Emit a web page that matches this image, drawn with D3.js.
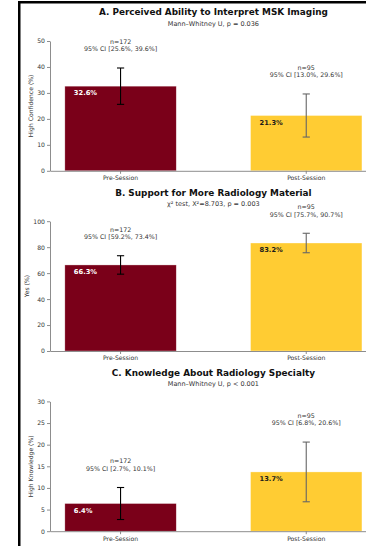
<!DOCTYPE html>
<html>
<head>
<meta charset="utf-8">
<script src="https://cdn.jsdelivr.net/npm/d3@7"></script>
<style>
  html, body { margin: 0; padding: 0; background: #fff; }
  svg { display: block; font-family: "DejaVu Sans", sans-serif; }
</style>
</head>
<body>
<svg id="chart" width="366" height="546"></svg>
<script>
// Survey outcomes before and after the session, three panels.
const categories = ["Pre-Session", "Post-Session"];
const sampleSizes = [172, 95];

const panelTitles = [
  "A. Perceived Ability to Interpret MSK Imaging",
  "B. Support for More Radiology Material",
  "C. Knowledge About Radiology Specialty"
];
const panelTests = [
  "Mann\u2013Whitney U, p = 0.036",
  "\u03c7\u00b2 test, \u03a7\u00b2=8.703, p = 0.003",
  "Mann\u2013Whitney U, p < 0.001"
];
const yAxisLabels = ["High Confidence (%)", "Yes (%)", "High Knowledge (%)"];
const yMaxima = [50, 100, 30];
const yTickValues = [
  [0, 10, 20, 30, 40, 50],
  [0, 20, 40, 60, 80, 100],
  [0, 5, 10, 15, 20, 25, 30]
];

// Percentages per panel: [Pre, Post]
const confidenceValues = [32.6, 21.3];
const supportValues = [66.3, 83.2];
const knowledgeValues = [6.4, 13.7];
const panelValues = [confidenceValues, supportValues, knowledgeValues];

// 95% confidence intervals per panel: [Pre, Post]
const ciLower = [[25.6, 13.0], [59.2, 75.7], [2.7, 6.8]];
const ciUpper = [[39.6, 29.6], [73.4, 90.7], [10.1, 20.6]];

const barColors = ["#7A0019", "#FFCC33"];
const valueTextColors = ["#ffffff", "#1a1a1a"];
const errorColors = ["#000000", "#666666"];

const svg = d3.select("#chart");

// Frame lines along the left and top edges
svg.append("path")
  .attr("d", "M19.25,546 L19.25,2.25 L366,2.25")
  .attr("fill", "none")
  .attr("stroke", "#000")
  .attr("stroke-width", 2.5);

const axisLeftX = 50;
const axisRightX = 376.8;
const plotHeight = 129.8;
const panelTop0 = 41;
const panelPitch = 180.2;

const x = d3.scaleBand()
  .domain(categories)
  .range([axisLeftX, axisRightX])
  .paddingInner(0.4)
  .paddingOuter(0.08);

panelValues.forEach((values, p) => {
  const top = panelTop0 + p * panelPitch;
  const bottom = top + plotHeight;
  const y = d3.scaleLinear().domain([0, yMaxima[p]]).range([bottom, top]);
  const g = svg.append("g");
  const cx = (axisLeftX + axisRightX) / 2;

  g.append("text")
    .attr("x", cx).attr("y", top - 28.6)
    .attr("text-anchor", "middle").attr("dominant-baseline", "central")
    .attr("font-size", 8.9).attr("font-weight", "bold").attr("fill", "#111")
    .text(panelTitles[p]);
  g.append("text")
    .attr("x", cx).attr("y", top - 17)
    .attr("text-anchor", "middle").attr("dominant-baseline", "central")
    .attr("font-size", 6.5).attr("fill", "#333")
    .text(panelTests[p]);

  // Bars
  g.selectAll("rect.bar")
    .data(values)
    .join("rect")
    .attr("class", "bar")
    .attr("x", (d, i) => x(categories[i]))
    .attr("width", x.bandwidth())
    .attr("y", d => y(d))
    .attr("height", d => bottom - y(d))
    .attr("fill", (d, i) => barColors[i])
    .attr("stroke", "rgba(255,255,255,0.55)")
    .attr("stroke-width", 0.6);

  // Value labels inside bars
  g.selectAll("text.value")
    .data(values)
    .join("text")
    .attr("class", "value")
    .attr("x", (d, i) => x(categories[i]) + 9)
    .attr("y", d => y(d) + 7.2)
    .attr("dominant-baseline", "central")
    .attr("font-size", 6.7).attr("font-weight", "bold")
    .attr("fill", (d, i) => valueTextColors[i])
    .text(d => d.toFixed(1) + "%");

  // Error bars
  categories.forEach((c, i) => {
    const bx = x(c) + x.bandwidth() / 2;
    const lo = y(ciLower[p][i]);
    const hi = y(ciUpper[p][i]);
    const eg = g.append("g")
      .attr("stroke", errorColors[i])
      .attr("stroke-width", 1.1);
    eg.append("line").attr("x1", bx).attr("x2", bx).attr("y1", lo).attr("y2", hi);
    eg.append("line").attr("x1", bx - 3.6).attr("x2", bx + 3.6).attr("y1", lo).attr("y2", lo);
    eg.append("line").attr("x1", bx - 3.6).attr("x2", bx + 3.6).attr("y1", hi).attr("y2", hi);

    // Sample size and CI annotation above each error bar
    const ann = g.append("text")
      .attr("text-anchor", "middle")
      .attr("font-size", 6.3).attr("fill", "#333");
    ann.append("tspan")
      .attr("x", bx).attr("y", hi - 26.6)
      .attr("dominant-baseline", "central")
      .text("n=" + sampleSizes[i]);
    ann.append("tspan")
      .attr("x", bx).attr("y", hi - 19.2)
      .attr("dominant-baseline", "central")
      .text("95% CI [" + ciLower[p][i].toFixed(1) + "%, " + ciUpper[p][i].toFixed(1) + "%]");
  });

  // Axes
  const yAxis = g.append("g")
    .attr("transform", `translate(${axisLeftX},0)`)
    .call(d3.axisLeft(y).tickValues(yTickValues[p]).tickSize(3).tickPadding(2).tickSizeOuter(0));
  const xAxis = g.append("g")
    .attr("transform", `translate(0,${bottom})`)
    .call(d3.axisBottom(x).tickSize(3).tickPadding(2).tickSizeOuter(0));
  [yAxis, xAxis].forEach(ax => {
    ax.select(".domain").attr("stroke", "#808080").attr("stroke-width", 0.9);
    ax.selectAll(".tick line").attr("stroke", "#808080").attr("stroke-width", 0.9);
    ax.selectAll(".tick text").attr("fill", "#333").attr("font-size", 6.1)
      .attr("font-family", "DejaVu Sans, sans-serif");
  });

  // Rotated y-axis title placed just left of the tick labels
  const tickBox = yAxis.node().getBBox();
  g.append("text")
    .attr("transform", `translate(${axisLeftX + tickBox.x - 4.5},${(top + bottom) / 2}) rotate(-90)`)
    .attr("text-anchor", "middle")
    .attr("font-size", 6.1).attr("fill", "#333")
    .text(yAxisLabels[p]);
});
</script>
</body>
</html>
